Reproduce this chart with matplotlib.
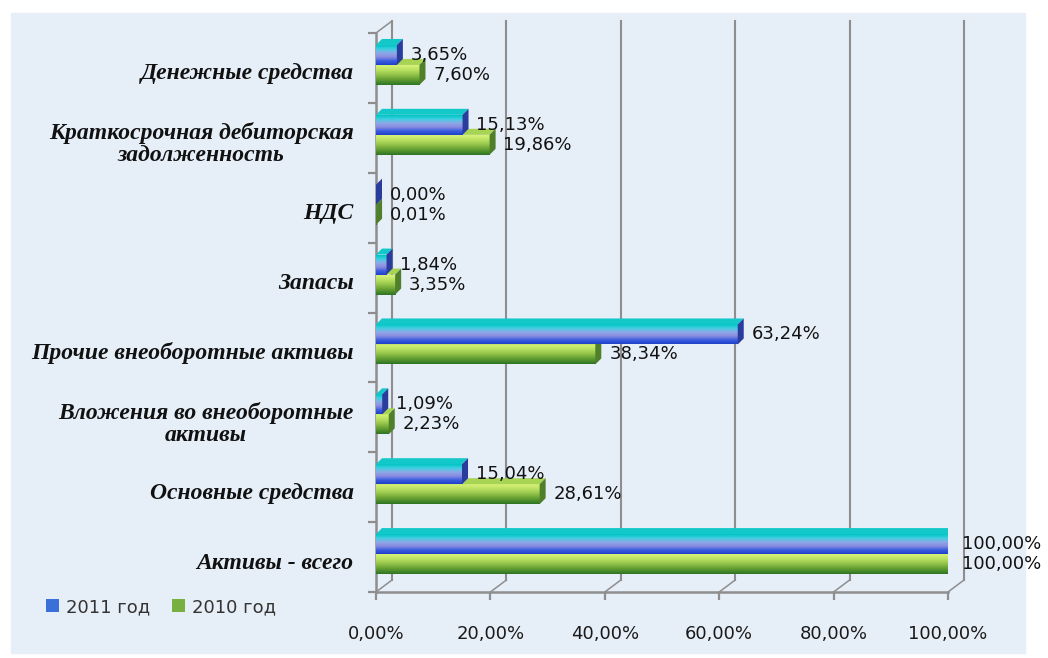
import numpy as np
import matplotlib
matplotlib.use("Agg")
import matplotlib.pyplot as plt
from matplotlib.patches import Polygon, Rectangle, Patch
from matplotlib.colors import LinearSegmentedColormap

# data (top -> bottom as in the chart)
categories = [
    "Денежные средства",
    "Краткосрочная дебиторская\nзадолженность",
    "НДС",
    "Запасы",
    "Прочие внеоборотные активы",
    "Вложения во внеоборотные\nактивы",
    "Основные средства",
    "Активы - всего",
]
share_2011 = [3.65, 15.13, 0.00, 1.84, 63.24, 1.09, 15.04, 100.00]
share_2010 = [7.60, 19.86, 0.01, 3.35, 38.34, 2.23, 28.61, 100.00]
label_2011 = ["3,65%", "15,13%", "0,00%", "1,84%", "63,24%", "1,09%", "15,04%", "100,00%"]
label_2010 = ["7,60%", "19,86%", "0,01%", "3,35%", "38,34%", "2,23%", "28,61%", "100,00%"]
xticks = [0, 20, 40, 60, 80, 100]
xticklabels = ["0,00%", "20,00%", "40,00%", "60,00%", "80,00%", "100,00%"]

W, H = 1048, 658
fig = plt.figure(figsize=(W / 100, H / 100), dpi=100, facecolor="white")
fig.patches.append(Rectangle((11 / W, 1 - 653 / H), 1014 / W, 640 / H,
                             transform=fig.transFigure, color="#e6eef8", zorder=-10))

# front plane: x 0 -> 376px, 100 -> 948px ; bands from y=33 to y=592
ax = fig.add_axes([376 / W, 1 - 592 / H, 572 / W, 559 / H])
ax.set_xlim(0, 100)
ax.set_ylim(7.5, -0.5)
ax.patch.set_alpha(0)
for s in ax.spines.values():
    s.set_visible(False)

px_x = 100 / 572.0
px_y = 1 / 69.9
wall_dx, wall_dy = 16 * px_x, 12 * px_y
grid_c = "#8e8e8e"

# back wall gridlines and floor diagonals
for v in xticks:
    ax.plot([v + wall_dx] * 2, [-0.5 - wall_dy, 7.5 - wall_dy], color=grid_c, lw=1.5, zorder=1, clip_on=False)
    ax.plot([v, v + wall_dx], [7.5, 7.5 - wall_dy], color=grid_c, lw=1.1, zorder=1, clip_on=False)
ax.plot([0, 0], [-0.5, 7.5], color=grid_c, lw=1.8, zorder=1, clip_on=False)
ax.plot([0, wall_dx], [-0.5, -0.5 - wall_dy], color=grid_c, lw=1.1, zorder=1, clip_on=False)
ax.plot([0, 100], [7.5, 7.5], color=grid_c, lw=1.8, zorder=1, clip_on=False)

# bar gradients (top -> bottom)
cmap_2011 = LinearSegmentedColormap.from_list(
    "c2011", ["#00c4c4", "#40d0e0", "#8fa8e8", "#8a8ce0", "#3a5ee0", "#1f3fc8"])
cmap_2010 = LinearSegmentedColormap.from_list(
    "c2010", ["#d8f27a", "#b8e060", "#90c048", "#5e9a30", "#2e7424"])
grad = np.linspace(0, 1, 64).reshape(-1, 1)

bh = 0.286
ddx, ddy = 6 * px_x, 6 * px_y


def draw_bar(val, y0, y1, cmap, top_c, side_c, z):
    # y0 = top edge (smaller), y1 = bottom edge
    ax.imshow(grad, cmap=cmap, aspect="auto", extent=[0, val, y1, y0],
              interpolation="bilinear", zorder=z)
    ax.add_patch(Polygon([(0, y0), (ddx, y0 - ddy), (val + ddx, y0 - ddy), (val, y0)],
                         closed=True, fc=top_c, ec="none", zorder=z))
    ax.add_patch(Polygon([(val, y0), (val + ddx, y0 - ddy), (val + ddx, y1 - ddy), (val, y1)],
                         closed=True, fc=side_c, ec="none", zorder=z))


for i in range(len(categories)):
    c = i - 0.043
    draw_bar(share_2010[i], c, c + bh, cmap_2010, "#a8d454", "#4f7f2a", 3)
    draw_bar(share_2011[i], c - bh, c, cmap_2011, "#12c8c8", "#2a3c9c", 4)
    ax.annotate(label_2011[i], (share_2011[i], c - bh / 2), xytext=(10, 0),
                textcoords="offset points", va="center", ha="left",
                fontsize=13, color="#111111", zorder=6)
    ax.annotate(label_2010[i], (share_2010[i], c + bh / 2), xytext=(10, 0),
                textcoords="offset points", va="center", ha="left",
                fontsize=13, color="#111111", zorder=6)

ax.set_xticks(xticks)
ax.set_xticklabels(xticklabels, fontsize=13, color="#1a1a1a")
ax.tick_params(axis="x", length=6, width=1.6, color=grid_c, pad=18)

ax.set_yticks(np.arange(len(categories)) + 0.05)
ax.set_yticklabels(categories, fontsize=17, family="Liberation Serif",
                   fontweight="bold", fontstyle="italic", color="#111111",
                   multialignment="center", linespacing=1.05)
ax.tick_params(axis="y", length=0, pad=16)
ax.set_yticks(np.arange(len(categories) + 1) - 0.5, minor=True)
ax.tick_params(axis="y", which="minor", length=6, width=1.6, color=grid_c)

handles = [Patch(fc="#3a70d8", ec="none"), Patch(fc="#78b040", ec="none")]
fig.legend(handles, ["2011 год", "2010 год"], loc="center left",
           bbox_to_anchor=(30 / W, 1 - 607 / H), ncol=2, frameon=False,
           fontsize=13, handlelength=0.7, handleheight=0.7, handletextpad=0.4,
           columnspacing=1.2, labelcolor="#333333")

fig.savefig("out.png", dpi=100, facecolor="white")
